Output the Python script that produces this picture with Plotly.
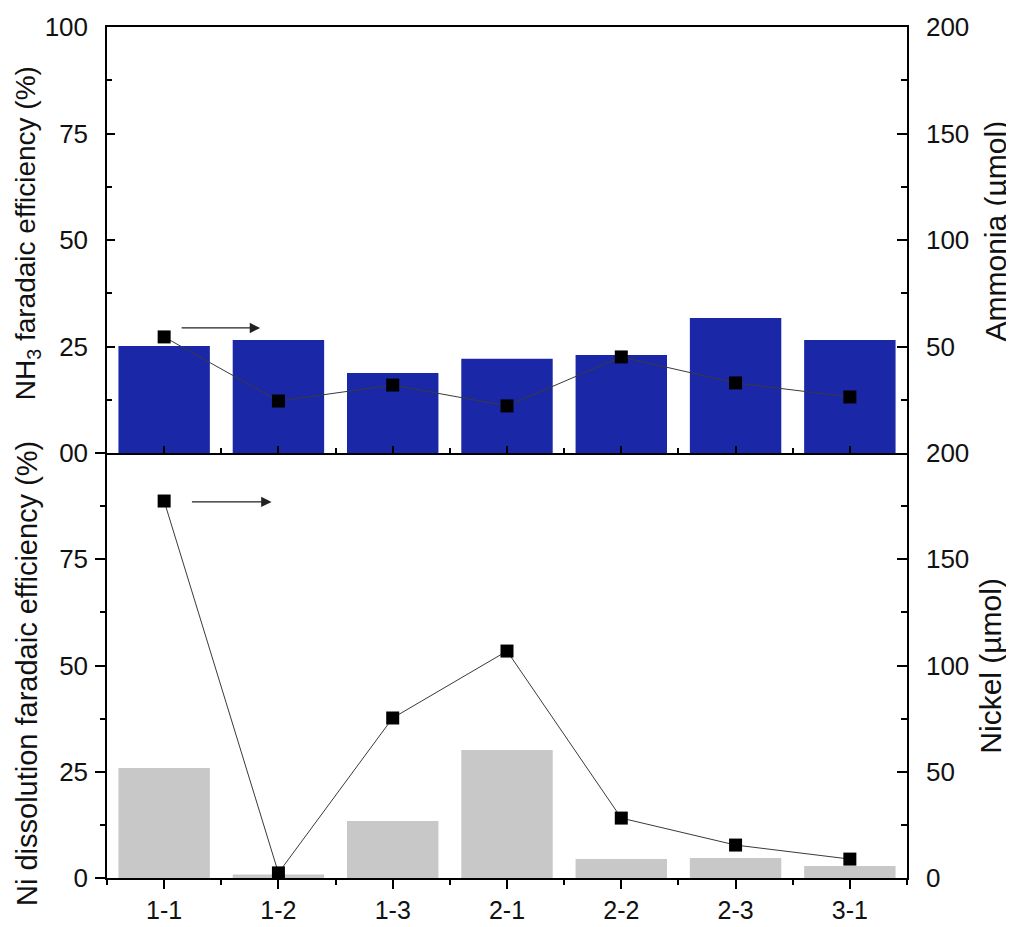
import plotly.graph_objects as go

categories = ["1-1", "1-2", "1-3", "2-1", "2-2", "2-3", "3-1"]
nh3_fe = [25.1, 26.5, 18.8, 22.1, 23.0, 31.7, 26.5]
ammonia_umol = [54.5, 24.4, 31.9, 22.1, 45.1, 32.9, 26.3]
ni_fe = [25.9, 0.8, 13.4, 30.1, 4.5, 4.7, 2.8]
nickel_umol = [177.4, 2.4, 75.3, 106.8, 28.2, 15.5, 8.9]

left_ticks_top = [25, 50, 75, 100]
left_ticks_bottom = [0, 25, 50, 75, 100]
left_text_bottom = ["0", "25", "50", "75", "00"]
right_ticks_top = [50, 100, 150, 200]
right_ticks_bottom = [0, 50, 100, 150, 200]

x = list(range(len(categories)))

BLUE = "#1a28a8"
GREY = "#c8c8c8"
FONT = "Liberation Sans, Arial, sans-serif"

fig = go.Figure()
fig.add_trace(go.Bar(x=x, y=nh3_fe, xaxis="x2", yaxis="y3", marker=dict(color=BLUE, line=dict(width=0)), width=0.8))
fig.add_trace(go.Scatter(x=x, y=ammonia_umol, xaxis="x2", yaxis="y4", mode="lines+markers",
                         line=dict(color="#3a3a3a", width=1),
                         marker=dict(symbol="square", size=13, color="black")))
fig.add_trace(go.Bar(x=x, y=ni_fe, xaxis="x", yaxis="y", marker=dict(color=GREY, line=dict(width=0)), width=0.8))
fig.add_trace(go.Scatter(x=x, y=nickel_umol, xaxis="x", yaxis="y2", mode="lines+markers",
                         line=dict(color="#3a3a3a", width=1),
                         marker=dict(symbol="square", size=13, color="black")))

split = 425 / 851
axis_common = dict(showline=True, linecolor="black", linewidth=1.5, tickcolor="black", tickwidth=1.5,
                   showgrid=False, zeroline=False, automargin=False, tickfont=dict(size=26, color="#111"))

# page body has an 8px margin: figure is sized/offset so the plot area lands at x 107-907, y 27-878
fig.update_layout(
    width=1006, height=919,
    margin=dict(l=99, r=107, t=19, b=49, autoexpand=False),
    paper_bgcolor="white", plot_bgcolor="white",
    showlegend=False,
    font=dict(family=FONT, color="#111"),
    xaxis=dict(domain=[0, 1], anchor="y", range=[-0.5, 6.5], tickmode="array", tickvals=x, ticktext=categories,
               ticks="outside", ticklen=9, ticklabelstandoff=0,
               minor=dict(ticks="outside", ticklen=5, tick0=0.5, dtick=1, tickcolor="black", tickwidth=1.5),
               **{**axis_common, "tickfont": dict(size=25, color="#111")}),
    xaxis2=dict(domain=[0, 1], anchor="y3", range=[-0.5, 6.5], tickmode="array", tickvals=x, showticklabels=False,
                ticks="inside", ticklen=7, mirror=True,
                minor=dict(ticks="inside", ticklen=5, tick0=0.5, dtick=1, tickcolor="black", tickwidth=1.5),
                **axis_common),
    yaxis=dict(domain=[0, split], anchor="x", range=[0, 100], tickmode="array", tickvals=left_ticks_bottom,
               ticktext=left_text_bottom, ticks="outside", ticklen=10, ticklabelstandoff=2,
               minor=dict(ticks="outside", ticklen=5, tick0=0, dtick=12.5, tickcolor="black", tickwidth=1.5),
               **axis_common),
    yaxis2=dict(overlaying="y", anchor="x", side="right", range=[0, 200], tickmode="array",
                tickvals=right_ticks_bottom, ticks="inside", ticklen=10, ticklabelstandoff=12,
                minor=dict(ticks="inside", ticklen=6, tick0=0, dtick=25, tickcolor="black", tickwidth=1.5),
                **axis_common),
    yaxis3=dict(domain=[split, 1], anchor="x2", range=[0, 100], tickmode="array", tickvals=left_ticks_top,
                ticks="inside", ticklen=8, ticklabelstandoff=12,
                minor=dict(ticks="inside", ticklen=5, tick0=0, dtick=12.5, tickcolor="black", tickwidth=1.5),
                **axis_common),
    yaxis4=dict(overlaying="y3", anchor="x2", side="right", range=[0, 200], tickmode="array",
                tickvals=right_ticks_top, ticks="inside", ticklen=10, ticklabelstandoff=12,
                minor=dict(ticks="inside", ticklen=6, tick0=0, dtick=25, tickcolor="black", tickwidth=1.5),
                **axis_common),
)

# Arrows pointing to the right-hand axes
fig.add_annotation(xref="x2", yref="y4", axref="x2", ayref="y4", x=0.84, y=58.7, ax=0.14, ay=58.7,
                   showarrow=True, arrowhead=2, arrowsize=1.6, arrowwidth=1.3, arrowcolor="#222", text="")
fig.add_annotation(xref="x", yref="y2", axref="x", ayref="y2", x=0.94, y=177, ax=0.23, ay=177,
                   showarrow=True, arrowhead=2, arrowsize=1.6, arrowwidth=1.3, arrowcolor="#222", text="")

# Axis titles
def tfont(size):
    return dict(size=size, color="#111", family=FONT)

fig.add_annotation(xref="paper", yref="paper", x=-0.1, y=(1 + split) / 2 + 0.008,
                   text="NH<sub>3</sub> faradaic efficiency (%)",
                   textangle=-90, showarrow=False, font=tfont(28), xanchor="center", yanchor="middle")
fig.add_annotation(xref="paper", yref="paper", x=-0.1, y=split / 2 - 0.01,
                   text="Ni dissolution faradaic efficiency (%)",
                   textangle=-90, showarrow=False, font=tfont(29), xanchor="center", yanchor="middle")
fig.add_annotation(xref="paper", yref="paper", x=1.11, y=(1 + split) / 2 + 0.01, text="Ammonia (\u00b5mol)",
                   textangle=-90, showarrow=False, font=tfont(30), xanchor="center", yanchor="middle")
fig.add_annotation(xref="paper", yref="paper", x=1.104, y=split / 2, text="Nickel (\u00b5mol)",
                   textangle=-90, showarrow=False, font=tfont(30), xanchor="center", yanchor="middle")

fig.write_html("out.html")
